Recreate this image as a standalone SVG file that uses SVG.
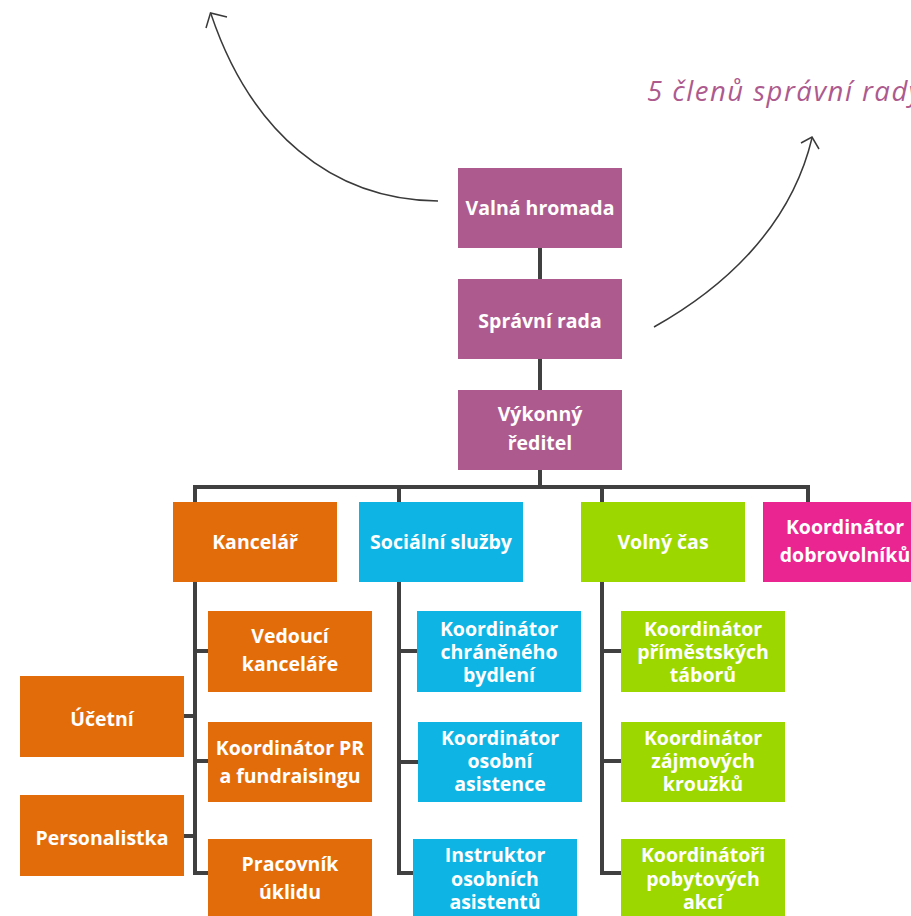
<svg xmlns="http://www.w3.org/2000/svg" width="911" height="916" viewBox="0 0 911 916">
<style>
.t{font-family:"Open Sans","Liberation Sans",sans-serif;font-weight:bold;font-size:19.5px;fill:#fff;text-anchor:middle}
.purple{fill:#AD5A8E}
.orange{fill:#E36C0A}
.blue{fill:#0DB4E4}
.green{fill:#9CD700}
.pink{fill:#EA2490}
.c{fill:none;stroke:#404040;stroke-width:4;stroke-linejoin:miter}
.arr{fill:none;stroke:#3a3a3a;stroke-width:1.5}
.note{font-family:"Open Sans","Liberation Sans",sans-serif;font-style:italic;font-size:27.5px;letter-spacing:1.5px;fill:#AD5A8E}
</style>
<rect width="911" height="916" fill="#fff"/>
<g id="connectors">
<path class="c" d="M540,248 V487"/>
<path class="c" d="M195,502 V487 H808 V502"/>
<path class="c" d="M399,487 V502 M602,487 V502"/>
<path class="c" d="M195,582 V873 H208 M195,651 H208 M195,761 H208 M184,716 H195 M184,836 H195"/>
<path class="c" d="M399,582 V873 H413 M399,651 H417 M399,762 H418"/>
<path class="c" d="M602,582 V873 H621 M602,651 H621 M602,761 H621"/>
<path class="arr" d="M438,201 C330,200 250,130 211,14"/>
<path class="arr" d="M206,28 L210.5,13 L227,17"/>
<path class="arr" d="M654,327 C720,290 790,230 812,138"/>
<path class="arr" d="M801,143 L812,137 L819,149"/>
</g>
<text class="note" x="647" y="101">5 členů správní rady</text>
<g id="valna"><rect class="purple" x="458" y="168" width="164" height="80"/><text class="t" x="540" y="215">Valná hromada</text></g>
<g id="spravni"><rect class="purple" x="458" y="279" width="164" height="80"/><text class="t" x="540" y="328">Správní rada</text></g>
<g id="reditel"><rect class="purple" x="458" y="390" width="164" height="80"/><text class="t" x="540" y="421">Výkonný</text><text class="t" x="540" y="450">ředitel</text></g>
<g id="kancelar"><rect class="orange" x="173" y="502" width="164" height="80"/><text class="t" x="255" y="549">Kancelář</text></g>
<g id="socialni"><rect class="blue" x="359" y="502" width="164" height="80"/><text class="t" x="441" y="549">Sociální služby</text></g>
<g id="volny"><rect class="green" x="581" y="502" width="164" height="80"/><text class="t" x="663" y="549">Volný čas</text></g>
<g id="dobrovolnici"><rect class="pink" x="763" y="502" width="164" height="80"/><text class="t" x="845" y="534">Koordinátor</text><text class="t" x="845" y="562">dobrovolníků</text></g>
<g id="vedouci"><rect class="orange" x="208" y="611" width="164" height="81"/><text class="t" x="290" y="643">Vedoucí</text><text class="t" x="290" y="671">kanceláře</text></g>
<g id="pr"><rect class="orange" x="208" y="722" width="164" height="80"/><text class="t" x="290" y="755">Koordinátor PR</text><text class="t" x="290" y="783">a fundraisingu</text></g>
<g id="uklid"><rect class="orange" x="208" y="839" width="164" height="80"/><text class="t" x="290" y="871">Pracovník</text><text class="t" x="290" y="899">úklidu</text></g>
<g id="ucetni"><rect class="orange" x="20" y="676" width="164" height="81"/><text class="t" x="102" y="726">Účetní</text></g>
<g id="personalistka"><rect class="orange" x="20" y="795" width="164" height="81"/><text class="t" x="102" y="845">Personalistka</text></g>
<g id="bydleni"><rect class="blue" x="417" y="611" width="164" height="81"/><text class="t" x="499" y="636">Koordinátor</text><text class="t" x="499" y="659">chráněného</text><text class="t" x="499" y="682">bydlení</text></g>
<g id="asistence"><rect class="blue" x="418" y="722" width="164" height="80"/><text class="t" x="500" y="745">Koordinátor</text><text class="t" x="500" y="768">osobní</text><text class="t" x="500" y="791">asistence</text></g>
<g id="instruktor"><rect class="blue" x="413" y="839" width="164" height="80"/><text class="t" x="495" y="862">Instruktor</text><text class="t" x="495" y="886">osobních</text><text class="t" x="495" y="909">asistentů</text></g>
<g id="tabory"><rect class="green" x="621" y="611" width="164" height="81"/><text class="t" x="703" y="636">Koordinátor</text><text class="t" x="703" y="659">příměstských</text><text class="t" x="703" y="682">táborů</text></g>
<g id="krouzky"><rect class="green" x="621" y="722" width="164" height="80"/><text class="t" x="703" y="745">Koordinátor</text><text class="t" x="703" y="768">zájmových</text><text class="t" x="703" y="791">kroužků</text></g>
<g id="pobyty"><rect class="green" x="621" y="839" width="164" height="80"/><text class="t" x="703" y="862">Koordinátoři</text><text class="t" x="703" y="886">pobytových</text><text class="t" x="703" y="909">akcí</text></g>
</svg>
